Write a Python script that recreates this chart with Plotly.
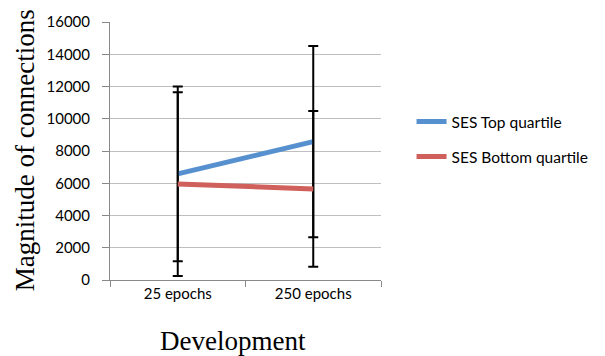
import plotly.graph_objects as go

categories = ["25 epochs", "250 epochs"]
top_quartile = [6580, 8580]
bottom_quartile = [5950, 5650]
top_err = [5420, 5930]
bottom_err = [5700, 4830]
y_ticks = [0, 2000, 4000, 6000, 8000, 10000, 12000, 14000, 16000]
y_tick_labels = [str(v) for v in y_ticks]

BLUE = "#5690CF"
RED = "#CF605C"
TICK_FONT = dict(family="Lato, Open Sans, sans-serif", size=15, color="black")
TITLE_FONT = dict(family="Liberation Serif, Times New Roman, serif", size=27, color="black")

# plot area in pixels: x 110..385, y 22..280
PL, PR, PT, PB = 110, 385, 22, 280
def px_x(x):
    return (x - PL) / (PR - PL)
def px_y(y):
    return (PB - y) / (PB - PT)

fig = go.Figure()
fig.add_trace(go.Scatter(
    x=categories, y=top_quartile, mode="lines", name="SES Top quartile",
    line=dict(color=BLUE, width=5),
    error_y=dict(type="data", array=top_err, color="black", thickness=2, width=5),
    legend="legend",
))
fig.add_trace(go.Scatter(
    x=categories, y=bottom_quartile, mode="lines", name="SES Bottom quartile",
    line=dict(color=RED, width=5),
    error_y=dict(type="data", array=bottom_err, color="black", thickness=2, width=5),
    legend="legend2",
))

legend_common = dict(
    font=dict(family="Lato, Open Sans, sans-serif", size=15.5, color="black"),
    bgcolor="rgba(0,0,0,0)", itemwidth=30, xanchor="left", yanchor="middle",
)

fig.update_layout(
    width=605, height=356,
    margin=dict(l=PL, r=605 - PR, t=PT, b=356 - PB),
    paper_bgcolor="white", plot_bgcolor="white",
    showlegend=True,
    legend=dict(x=px_x(416), y=px_y(122), **legend_common),
    legend2=dict(x=px_x(416), y=px_y(157), **legend_common),
    xaxis=dict(
        type="category", range=[-0.5, 1.5],
        showline=True, linecolor="#888888", linewidth=1,
        ticks="outside", tickson="boundaries", ticklen=6, tickcolor="#888888",
        tickfont=TICK_FONT,
        showgrid=False,
    ),
    yaxis=dict(
        range=[0, 16000], tickvals=y_ticks, ticktext=y_tick_labels,
        showline=True, linecolor="#888888", linewidth=1,
        ticks="outside", ticklen=7, tickcolor="#888888",
        ticklabelstandoff=9,
        tickfont=TICK_FONT,
        showgrid=True, gridcolor="#BFBFBF", gridwidth=1,
        zeroline=False,
    ),
    annotations=[
        dict(text="Development", font=TITLE_FONT, showarrow=False,
             xref="paper", yref="paper", x=px_x(234.5), y=px_y(341),
             xanchor="center", yanchor="middle"),
        dict(text="Magnitude of connections", font=TITLE_FONT, showarrow=False,
             textangle=-90, xref="paper", yref="paper", x=px_x(24), y=px_y(150),
             xanchor="center", yanchor="middle"),
    ],
)

fig.write_html("out.html")
